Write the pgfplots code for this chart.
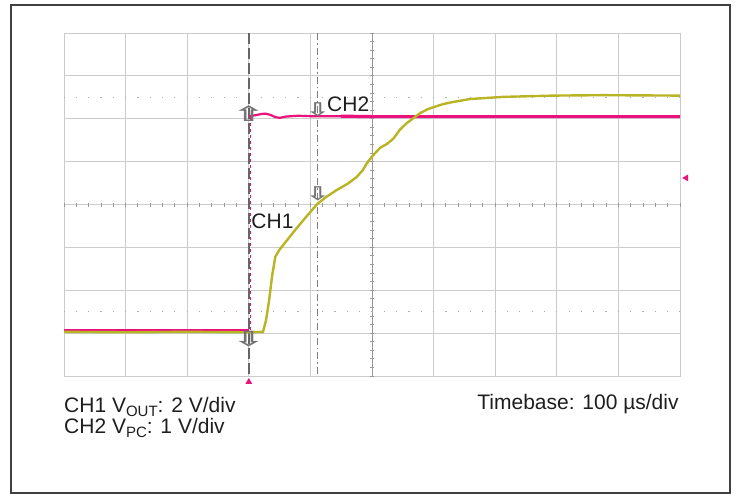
\documentclass[border=0pt]{standalone}
\usepackage{pgfplots}
\pgfplotsset{compat=1.18}
\usepackage{fontspec}
\setmainfont{Liberation Sans}
\newfontfamily\dejavu{DejaVu Sans Bold}
\definecolor{mag}{RGB}{236,18,126}
\definecolor{oli}{RGB}{184,180,36}
\definecolor{gridc}{RGB}{204,204,204}
\definecolor{txt}{RGB}{30,30,30}
\newcommand{\sub}[1]{\raisebox{-0.22em}{\fontsize{15bp}{15bp}\selectfont #1}}
\newcommand{\wide}[1]{\scalebox{1.8}[1]{#1}}
\newcommand{\semiwide}[1]{\scalebox{1.5}[1]{#1}}
\begin{document}
\begin{tikzpicture}
\useasboundingbox (0,0) rectangle (737bp,494bp);
\draw[line width=1.4bp, color=black!75] (11bp,1bp) rectangle (730bp,489bp);
\begin{axis}[
 at={(64bp,118bp)}, anchor=south west, scale only axis, width=616bp, height=343bp,
 xmin=0,xmax=10,ymin=0,ymax=8,
 xtick={0,...,10}, ytick={0,...,8}, xticklabels={}, yticklabels={},
 major tick length=0pt,
 grid=major, major grid style={gridc, line width=0.9bp},
 axis line style={gridc, line width=0.9bp},
 clip=false,
 font=\fontsize{21bp}{24bp}\selectfont\color{txt},
]
% center line ticks
\draw[gridc!75!black, line width=0.9bp] (axis cs:5,0) -- (axis cs:5,8);
\draw[gridc!75!black, line width=4bp, dash pattern=on 0.9bp off 11.42bp, dash phase=0.45bp] (axis cs:0,4) -- (axis cs:10,4);
\draw[gridc!75!black, line width=4bp, dash pattern=on 0.9bp off 7.675bp, dash phase=0.45bp] (axis cs:5,0) -- (axis cs:5,8);
% dotted 10/90 lines
\draw[gridc!85!black, line width=1.2bp, dash pattern=on 1.2bp off 11.12bp, dash phase=0.6bp] (axis cs:0,6.5) -- (axis cs:10,6.5);
\draw[gridc!85!black, line width=1.2bp, dash pattern=on 1.2bp off 11.12bp, dash phase=0.6bp] (axis cs:0,1.5) -- (axis cs:10,1.5);
% trigger and cursor lines
\draw[black!60, line width=1.4bp, dash pattern=on 11bp off 4bp] (axis cs:3,8) -- (axis cs:3,0);
\draw[black!50, line width=1.3bp, dash pattern=on 7bp off 3bp on 1.5bp off 3bp] (axis cs:4.12,8) -- (axis cs:4.12,0);
% CH2 trace
\addplot[mag, line width=2bp] coordinates {(0,1.08)(3,1.08)};
\addplot[mag, line width=1bp, dash pattern=on 3bp off 3bp] coordinates {(3.02,1.08)(3.02,6.05)};
\addplot[mag, line width=2.2bp] coordinates {(3,6.06)(3.1,6.08)(3.2,6.11)(3.27,6.12)(3.35,6.09)(3.43,6.04)(3.5,6.02)(3.6,6.05)(3.8,6.07)(4.0,6.06)(4.5,6.06)};
\addplot[mag, line width=3.2bp] coordinates {(4.5,6.06)(5,6.05)(6,6.05)(8,6.05)(10,6.05)};
% CH1 trace
\addplot[oli, line width=2.4bp] coordinates {(0,1.03)(1,1.02)(2,1.03)(3,1.02)(3.23,1.03)(3.28,1.30)(3.33,1.77)(3.38,2.35)(3.43,2.78)(3.50,2.95)(3.6,3.13)(3.75,3.40)(3.9,3.66)(4.11,4.01)(4.25,4.17)(4.43,4.34)(4.6,4.48)(4.75,4.64)(4.85,4.80)(4.92,4.97)(5.0,5.12)(5.13,5.32)(5.25,5.42)(5.35,5.54)(5.45,5.74)(5.55,5.88)(5.65,5.99)(5.78,6.13)(5.9,6.22)(6.0,6.27)(6.15,6.34)(6.31,6.39)(6.59,6.46)(7.13,6.51)(7.94,6.54)(8.75,6.55)(10,6.54)};
% arrows
\node[text=black!55, font=\dejavu\fontsize{21bp}{21bp}\selectfont, inner sep=0] at (axis cs:3,6.13) {\wide{⇧}};
\node[text=black!55, font=\dejavu\fontsize{21bp}{21bp}\selectfont, inner sep=0] at (axis cs:3,0.87) {\wide{⇩}};
\node[text=black!55, font=\dejavu\fontsize{19bp}{19bp}\selectfont, inner sep=0] at (axis cs:4.12,6.2) {\semiwide{⇩}};
\node[text=black!55, font=\dejavu\fontsize{19bp}{19bp}\selectfont, inner sep=0] at (axis cs:4.12,4.26) {\semiwide{⇩}};
% markers
\addplot[only marks, mark=triangle*, mark size=3.5bp, mark options={fill=mag, draw=mag}] coordinates {(3,-0.14)};
\addplot[only marks, mark=triangle*, mark size=3.5bp, mark options={fill=mag, draw=mag, rotate=90}] coordinates {(10.1,4.62)};
% labels
\node[anchor=base west, inner sep=0] at (axis cs:4.27,6.16) {CH2};
\node[anchor=base west, inner sep=0] at (axis cs:3.04,3.45) {CH1};
\node[anchor=base west, inner sep=0] at (axis cs:0,-0.84) {CH1 V\sub{OUT}: 2 V/div};
\node[anchor=base west, inner sep=0] at (axis cs:0,-1.33) {CH2 V\sub{PC}: 1 V/div};
\node[anchor=base east, inner sep=0] at (axis cs:9.98,-0.79) {Timebase: 100 µs/div};
\end{axis}
\end{tikzpicture}
\end{document}
